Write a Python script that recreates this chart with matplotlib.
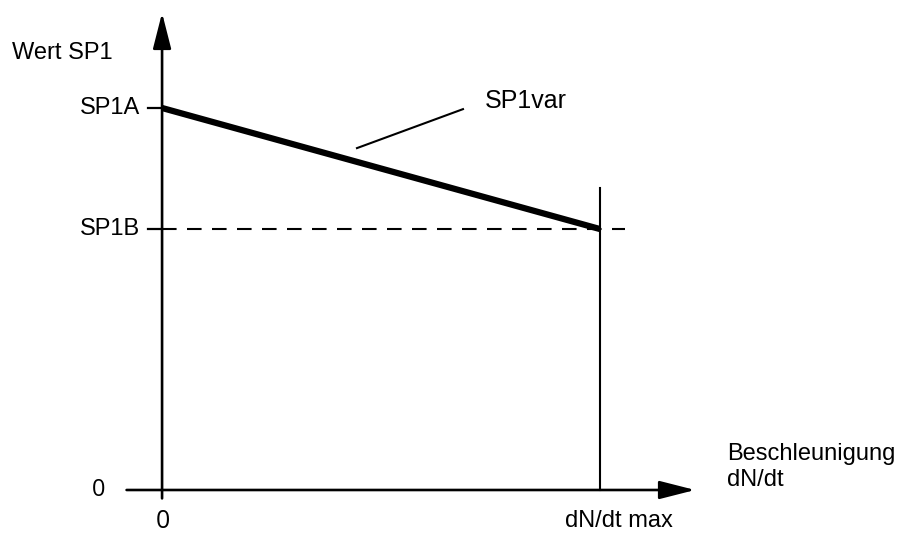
import matplotlib
matplotlib.use("Agg")
import matplotlib.pyplot as plt

plt.rcParams['font.family'] = ['Liberation Sans', 'DejaVu Sans']

# Kennlinie SP1 ueber Beschleunigung (normiert)
x_werte = [0.0, 1.0]            # 0 .. dN/dt max
sp1_werte = [100.0, 68.3]       # SP1A .. SP1B
sp1a = sp1_werte[0]
sp1b = sp1_werte[1]
x_ticks = [0.0, 1.0]
x_tick_labels = ["0", "dN/dt max"]
y_ticks = [0.0, sp1b, sp1a]
y_tick_labels = ["0", "SP1B", "SP1A"]

fig = plt.figure(figsize=(9.08, 5.34), dpi=100)
ax = fig.add_axes([0, 0, 1, 1])
ax.set_xlim(-0.370, 1.703)
ax.set_ylim(-11.52, 128.27)
ax.axis("off")

fs = 17
pfeil = dict(arrowstyle="-|>,head_length=1.1,head_width=0.28",
             color="black", lw=1.9, mutation_scale=20, shrinkA=0, shrinkB=0)

# Achsen mit Pfeilen
ax.annotate("", xy=(1.217, 0), xytext=(-0.081, 0), arrowprops=pfeil)
ax.annotate("", xy=(0, 124.9), xytext=(0, -2.2), arrowprops=pfeil)

# Ticks an der y-Achse
for yt in y_ticks[1:]:
    ax.plot([-0.032, 0], [yt, yt], color="black", lw=1.6)

# gestrichelte Linie SP1B
ax.plot([0, 1.057], [sp1b, sp1b], color="black", lw=1.5, dashes=(7, 5))

# senkrechte Linie bei dN/dt max
ax.plot([1.0, 1.0], [0, 79.0], color="black", lw=1.5)

# SP1var Kennlinie
ax.plot(x_werte, sp1_werte, color="black", lw=4.5, solid_capstyle="butt")

# Hinweislinie SP1var
ax.plot([0.445, 0.687], [89.5, 99.7], color="black", lw=1.5)
ax.text(0.737, 101.8, "SP1var", fontsize=18, ha="left", va="center")

# Beschriftungen
for yt, lab in zip(y_ticks[1:], y_tick_labels[1:]):
    ax.text(-0.05, yt, lab, fontsize=fs, ha="right", va="center")
ax.text(-0.16, 0, y_tick_labels[0], fontsize=fs, ha="left", va="center",
        family=["Open Sans", "DejaVu Sans"])
ax.text(-0.342, 114.5, "Wert SP1", fontsize=fs, ha="left", va="center")

ax.text(x_ticks[0] + 0.002, -8.2, x_tick_labels[0], fontsize=18, ha="center",
        va="center", family=["Open Sans", "DejaVu Sans"])
ax.text(x_ticks[1] + 0.043, -8.1, x_tick_labels[1], fontsize=fs, ha="center",
        va="center")

ax.text(1.290, 9.4, "Beschleunigung", fontsize=fs, ha="left", va="center")
ax.text(1.290, 2.6, "dN/dt", fontsize=fs, ha="left", va="center")

fig.savefig("out.png", dpi=100)
